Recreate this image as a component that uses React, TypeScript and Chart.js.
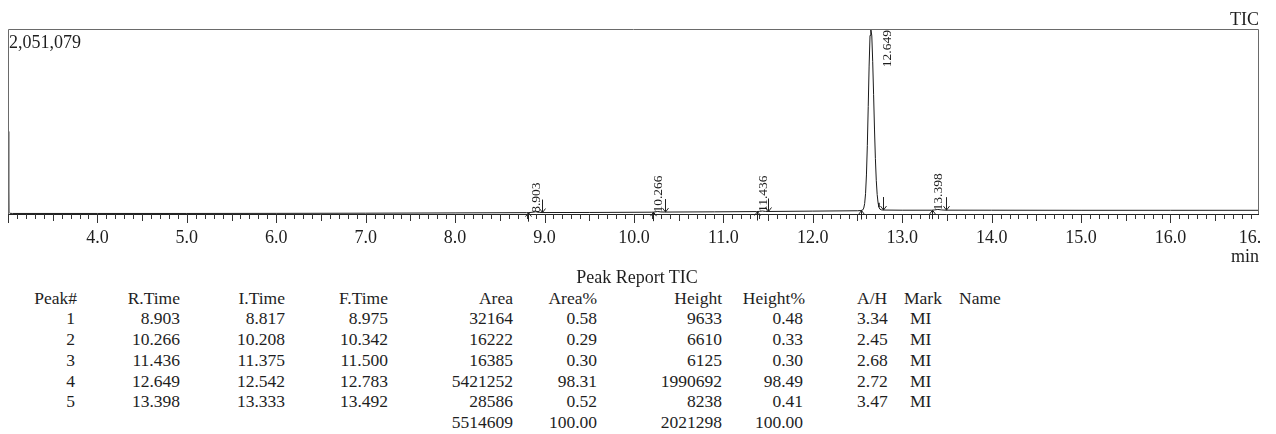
import React, { useEffect, useRef } from 'react';
import { Chart, registerables } from 'chart.js';

Chart.register(...registerables);

const FONT = "'Liberation Serif', 'Times New Roman', serif";

// Chromatogram (TIC) signal: time (min) and intensity
const signalTime = [
  3.0, 3.008, 3.02, 3.05, 4.0, 5.0, 6.0, 7.0, 8.0, 8.8, 8.82, 8.86, 8.903, 8.94, 8.975,
  9.5, 10.2, 10.22, 10.266, 10.3, 10.34, 10.9, 11.37, 11.4, 11.436, 11.47, 11.5, 12.0,
  12.5, 12.54, 12.56, 12.57, 12.58, 12.59, 12.6, 12.61, 12.62, 12.63, 12.64, 12.649,
  12.66, 12.67, 12.68, 12.69, 12.7, 12.71, 12.72, 12.73, 12.74, 12.75, 12.77, 12.783,
  13.0, 13.33, 13.36, 13.398, 13.44, 13.49, 14.0, 15.0, 16.0, 16.99,
];
const signalIntensity = [
  915000, 20000, 8000, 6000, 6000, 6000, 7000, 9000, 12000, 15000, 15000, 19000, 24600, 19000, 16000,
  17000, 20000, 21000, 27600, 23000, 21500, 24000, 27000, 29000, 33100, 29000, 28000, 32000,
  36000, 38000, 46000, 66000, 115000, 225000, 433000, 761000, 1190000, 1640000, 1980000, 2051079,
  1975000, 1693000, 1323000, 942000, 616000, 373000, 215000, 124000, 76000, 54000, 45000, 44000,
  42000, 42000, 45000, 50238, 45000, 42500, 42000, 41000, 41000, 41000,
];

const yMax = 2051079;
const yMaxLabel = '2,051,079';
const xMin = 3.0;
const xMax = 16.99;
const xTickValues = [4, 5, 6, 7, 8, 9, 10, 11, 12, 13, 14, 15, 16, 16.99];
const xTickLabels = ['4.0', '5.0', '6.0', '7.0', '8.0', '9.0', '10.0', '11.0', '12.0', '13.0', '14.0', '15.0', '16.0', '16.99'];

// Peak report
const peakNo = ['1', '2', '3', '4', '5'];
const rTime = [8.903, 10.266, 11.436, 12.649, 13.398];
const iTime = [8.817, 10.208, 11.375, 12.542, 13.333];
const fTime = [8.975, 10.342, 11.5, 12.783, 13.492];
const areaVals = ['32164', '16222', '16385', '5421252', '28586'];
const areaPct = ['0.58', '0.29', '0.30', '98.31', '0.52'];
const heightVals = ['9633', '6610', '6125', '1990692', '8238'];
const heightPct = ['0.48', '0.33', '0.30', '98.49', '0.41'];
const ahRatio = ['3.34', '2.45', '2.68', '2.72', '3.47'];
const markVals = ['MI', 'MI', 'MI', 'MI', 'MI'];
const totalRow = { area: '5514609', areaPct: '100.00', height: '2021298', heightPct: '100.00' };

function signalAt(t: number): number {
  for (let i = 0; i < signalTime.length - 1; i++) {
    if (t >= signalTime[i] && t <= signalTime[i + 1]) {
      const f = (t - signalTime[i]) / (signalTime[i + 1] - signalTime[i]);
      return signalIntensity[i] + f * (signalIntensity[i + 1] - signalIntensity[i]);
    }
  }
  return signalIntensity[signalIntensity.length - 1];
}

const overlayPlugin = {
  id: 'chromOverlay',
  afterDraw(chart: any) {
    const { ctx, chartArea: a, scales } = chart;
    const x = scales.x;
    const y = scales.y;
    ctx.save();
    // frame
    ctx.lineWidth = 1;
    ctx.strokeStyle = '#6a6a6a';
    ctx.beginPath();
    ctx.moveTo(a.left + 0.5, a.bottom);
    ctx.lineTo(a.left + 0.5, a.top + 0.5);
    ctx.lineTo(a.right - 0.5, a.top + 0.5);
    ctx.lineTo(a.right - 0.5, a.bottom);
    ctx.stroke();
    // axis line
    ctx.strokeStyle = '#222';
    ctx.beginPath();
    ctx.moveTo(a.left, a.bottom + 0.5);
    ctx.lineTo(a.right, a.bottom + 0.5);
    ctx.stroke();
    // tick marks every 0.1 min
    ctx.strokeStyle = '#333';
    ctx.beginPath();
    for (let i = Math.ceil(xMin * 10); i <= Math.floor(xMax * 10); i++) {
      const px = Math.round(x.getPixelForValue(i / 10)) + 0.5;
      const len = i % 10 === 0 ? 9 : i % 5 === 0 ? 7 : 5;
      ctx.moveTo(px, a.bottom);
      ctx.lineTo(px, a.bottom + len);
    }
    ctx.stroke();

    // texts
    ctx.fillStyle = '#1e1e1e';
    ctx.font = `18px ${FONT}`;
    ctx.textBaseline = 'alphabetic';
    ctx.textAlign = 'right';
    ctx.fillText('TIC', a.right, 25);
    ctx.fillText('min', a.right, 262);
    ctx.textAlign = 'left';
    ctx.fillText(yMaxLabel, a.left + 1, 48);

    // peak markers
    ctx.strokeStyle = '#222';
    ctx.lineWidth = 1;
    for (let k = 0; k < rTime.length; k++) {
      // start (up) arrow
      const xi = Math.round(x.getPixelForValue(iTime[k])) + 0.5;
      const yi = y.getPixelForValue(signalAt(iTime[k]));
      ctx.beginPath();
      ctx.moveTo(xi, yi + 9);
      ctx.lineTo(xi, yi);
      ctx.moveTo(xi - 3, yi + 4);
      ctx.lineTo(xi, yi);
      ctx.lineTo(xi + 3, yi + 4);
      ctx.stroke();
      // end (down) arrow
      const xf = Math.round(x.getPixelForValue(fTime[k])) + 0.5;
      const yf = y.getPixelForValue(signalAt(fTime[k]));
      ctx.beginPath();
      ctx.moveTo(xf, yf - 13);
      ctx.lineTo(xf, yf);
      ctx.moveTo(xf - 3, yf - 4);
      ctx.lineTo(xf, yf);
      ctx.lineTo(xf + 3, yf - 4);
      ctx.stroke();
      // rotated retention time label
      const text = rTime[k].toFixed(3);
      ctx.font = `13.5px ${FONT}`;
      const w = ctx.measureText(text).width;
      const xr = x.getPixelForValue(rTime[k]);
      const yTop = y.getPixelForValue(signalAt(rTime[k]));
      let startY = yTop + 1;
      let lx = xr + 1;
      if (startY - w < a.top) {
        startY = a.top + w + 1;
        lx = xr + 17;
      }
      ctx.save();
      ctx.translate(lx, startY);
      ctx.rotate(-Math.PI / 2);
      ctx.textAlign = 'left';
      ctx.textBaseline = 'middle';
      ctx.fillText(text, 0, 0);
      ctx.restore();
    }
    ctx.restore();
  },
};

const TABLE_FONT = 17.5;
const TITLE_FONT = 18;
const firstBaseline = 282.7;
const lineStep = 20.75;

type Col = { x: number; align: 'left' | 'right' };
const cols: Col[] = [
  { x: 77, align: 'right' },
  { x: 180, align: 'right' },
  { x: 285, align: 'right' },
  { x: 388, align: 'right' },
  { x: 513, align: 'right' },
  { x: 597, align: 'right' },
  { x: 722, align: 'right' },
  { x: 805, align: 'right' },
  { x: 857, align: 'left' },
  { x: 904, align: 'left' },
  { x: 959, align: 'left' },
];
const headers = ['Peak#', 'R.Time', 'I.Time', 'F.Time', 'Area', 'Area%', 'Height', 'Height%', 'A/H', 'Mark', 'Name'];

function Cell({ text, col, line, dx = 0 }: { text: string; col: Col; line: number; dx?: number }) {
  const baseline = firstBaseline + lineStep * line;
  const lh = 20;
  const top = baseline - ((lh - 1.107 * TABLE_FONT) / 2 + 0.891 * TABLE_FONT);
  const style: React.CSSProperties = {
    position: 'absolute',
    top,
    height: lh,
    lineHeight: `${lh}px`,
    fontSize: TABLE_FONT,
    fontFamily: FONT,
    color: '#1e1e1e',
    whiteSpace: 'nowrap',
  };
  if (col.align === 'right') {
    style.left = col.x - 120 + dx;
    style.width = 120;
    style.textAlign = 'right';
  } else {
    style.left = col.x + dx;
  }
  return <div style={style}>{text}</div>;
}

export default function App() {
  const canvasRef = useRef<HTMLCanvasElement | null>(null);

  useEffect(() => {
    const canvas = canvasRef.current;
    if (!canvas) return;
    const chart = new Chart(canvas, {
      type: 'line',
      data: {
        datasets: [
          {
            data: signalTime.map((t, i) => ({ x: t, y: signalIntensity[i] })),
            borderColor: '#1a1a1a',
            borderWidth: 1,
            pointRadius: 0,
            tension: 0,
            fill: false,
          },
        ],
      },
      options: {
        responsive: false,
        animation: false,
        events: [],
        layout: { padding: { left: 8, right: 1, top: 29, bottom: 0 }, autoPadding: false },
        plugins: { legend: { display: false }, tooltip: { enabled: false }, title: { display: false } },
        scales: {
          x: {
            type: 'linear',
            min: xMin,
            max: xMax,
            afterBuildTicks: (s: any) => {
              s.ticks = xTickValues.map((v) => ({ value: v }));
            },
            afterFit: (s: any) => {
              s.height = 56;
              s.paddingLeft = 0;
              s.paddingRight = 0;
              s.paddingTop = 0;
              s.paddingBottom = 0;
            },
            grid: { display: false, drawTicks: false },
            border: { display: false },
            ticks: {
              autoSkip: false,
              maxRotation: 0,
              minRotation: 0,
              padding: 13,
              color: '#1e1e1e',
              font: { family: FONT, size: 18 },
              callback: (_v: any, index: number) => xTickLabels[index] ?? '',
            },
          },
          y: { type: 'linear', display: false, min: 0, max: yMax },
        },
      } as any,
      plugins: [overlayPlugin],
    });
    return () => chart.destroy();
  }, []);

  return (
    <div style={{ position: 'absolute', left: 0, top: 0, width: 1276, height: 434, background: '#fff', overflow: 'hidden' }}>
      <canvas ref={canvasRef} width={1260} height={270} style={{ position: 'absolute', left: 0, top: 0, width: 1260, height: 270 }} />
      <div
        style={{
          position: 'absolute',
          left: 537,
          width: 200,
          top: firstBaseline - ((22 - 1.107 * TITLE_FONT) / 2 + 0.891 * TITLE_FONT),
          height: 22,
          lineHeight: '22px',
          textAlign: 'center',
          fontSize: TITLE_FONT,
          fontFamily: FONT,
          color: '#1e1e1e',
          whiteSpace: 'nowrap',
        }}
      >
        Peak Report TIC
      </div>
      {headers.map((h, c) => (
        <Cell key={'h' + c} text={h} col={cols[c]} line={1} />
      ))}
      {peakNo.map((p, r) => (
        <React.Fragment key={'r' + r}>
          <Cell text={p} col={cols[0]} line={2 + r} dx={-2} />
          <Cell text={rTime[r].toFixed(3)} col={cols[1]} line={2 + r} />
          <Cell text={iTime[r].toFixed(3)} col={cols[2]} line={2 + r} />
          <Cell text={fTime[r].toFixed(3)} col={cols[3]} line={2 + r} />
          <Cell text={areaVals[r]} col={cols[4]} line={2 + r} />
          <Cell text={areaPct[r]} col={cols[5]} line={2 + r} />
          <Cell text={heightVals[r]} col={cols[6]} line={2 + r} />
          <Cell text={heightPct[r]} col={cols[7]} line={2 + r} dx={-2} />
          <Cell text={ahRatio[r]} col={cols[8]} line={2 + r} />
          <Cell text={markVals[r]} col={cols[9]} line={2 + r} dx={6} />
        </React.Fragment>
      ))}
      <Cell text={totalRow.area} col={cols[4]} line={7} />
      <Cell text={totalRow.areaPct} col={cols[5]} line={7} />
      <Cell text={totalRow.height} col={cols[6]} line={7} />
      <Cell text={totalRow.heightPct} col={cols[7]} line={7} dx={-2} />
    </div>
  );
}
